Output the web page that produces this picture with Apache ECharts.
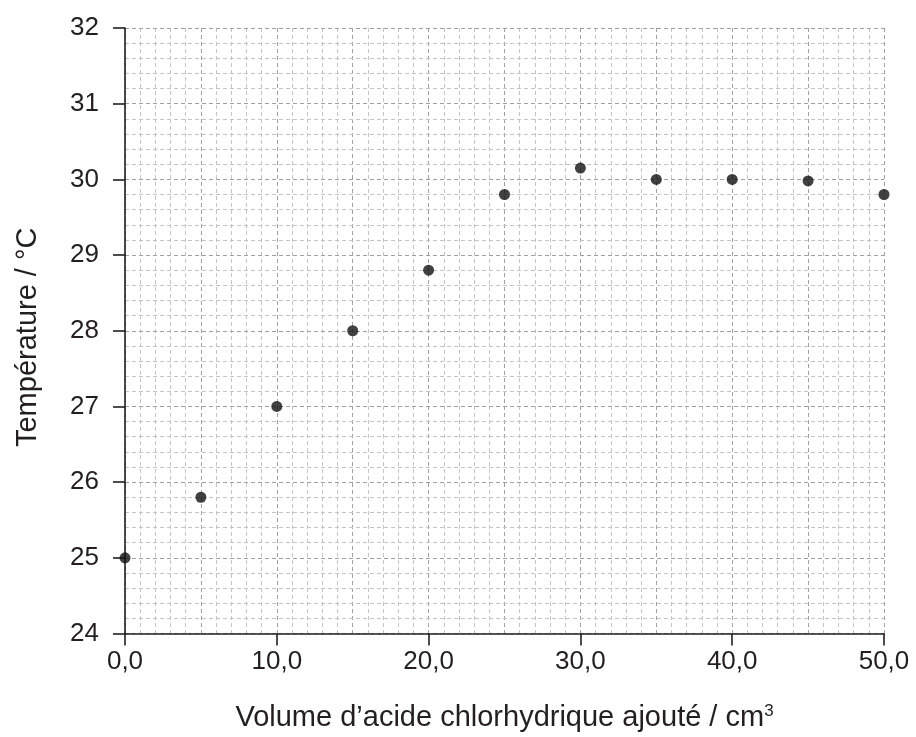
<!DOCTYPE html>
<html>
<head>
<meta charset="utf-8">
<script src="https://cdn.jsdelivr.net/npm/echarts@6/dist/echarts.min.js"></script>
<style>html,body{margin:0;padding:0;background:#fff}#c{width:916px;height:737px}</style>
</head>
<body>
<div id="c"></div>
<script>
const volumes = [0, 5, 10, 15, 20, 25, 30, 35, 40, 45, 50];
const temperatures = [25.0, 25.8, 27.0, 28.0, 28.8, 29.8, 30.15, 30.0, 30.0, 29.98, 29.8];
const xTitle = 'Volume d\u2019acide chlorhydrique ajouté / cm';
const yTitle = 'Température / °C';

const font = 'Liberation Sans, Arial, sans-serif';
const ink = '#231f20';
const chart = echarts.init(document.getElementById('c'));
chart.setOption({
  animation: false,
  grid: { left: 125, right: 32, top: 28, bottom: 102 },
  xAxis: [
    {
      type: 'value', min: 0, max: 50, interval: 10,
      axisLine: { show: true, onZero: false, lineStyle: { color: ink, width: 1.6 } },
      axisTick: { show: true, length: 12, lineStyle: { color: ink, width: 1.6 } },
      axisLabel: { margin: 15, fontFamily: font, fontSize: 26, color: ink,
        formatter: v => v.toFixed(1).replace('.', ',') },
      splitLine: { show: false },
      name: '{t|' + xTitle + '}{s|3}',
      nameLocation: 'middle', nameGap: 69,
      nameTextStyle: { rich: {
        t: { fontFamily: font, fontSize: 29, color: ink },
        s: { fontFamily: font, fontSize: 17, color: ink, verticalAlign: 'top', padding: [0, 0, 13, 0] }
      } },
      z: 5
    },
    {
      type: 'value', min: 0, max: 50, interval: 5, position: 'bottom',
      axisLine: { show: false }, axisTick: { show: false }, axisLabel: { show: false },
      splitLine: { show: true, lineStyle: { color: '#a0a0a0', width: 1, type: [4, 3] } },
      minorTick: { show: false, splitNumber: 5 },
      minorSplitLine: { show: true, lineStyle: { color: '#c4c4c4', width: 1, type: [4, 3] } },
      z: 1
    }
  ],
  yAxis: [
    {
      type: 'value', min: 24, max: 32, interval: 1,
      axisLine: { show: true, onZero: false, lineStyle: { color: ink, width: 1.6 } },
      axisTick: { show: true, length: 12, lineStyle: { color: ink, width: 1.6 } },
      axisLabel: { margin: 26, fontFamily: font, fontSize: 26, color: ink },
      splitLine: { show: true, lineStyle: { color: '#a0a0a0', width: 1, type: [4, 3] } },
      minorTick: { show: false, splitNumber: 5 },
      minorSplitLine: { show: true, lineStyle: { color: '#c4c4c4', width: 1, type: [4, 3] } },
      name: yTitle, nameLocation: 'middle', nameGap: 83, nameRotate: 90,
      nameTextStyle: { fontFamily: font, fontSize: 29, color: ink, padding: [0, 13, 0, 0] },
      z: 5
    }
  ],
  series: [{
    type: 'scatter', xAxisIndex: 0, yAxisIndex: 0,
    data: volumes.map((v, i) => [v, temperatures[i]]),
    symbol: 'circle', symbolSize: 11,
    itemStyle: { color: '#111' },
    clip: false, z: 10
  }]
});
</script>
</body>
</html>
